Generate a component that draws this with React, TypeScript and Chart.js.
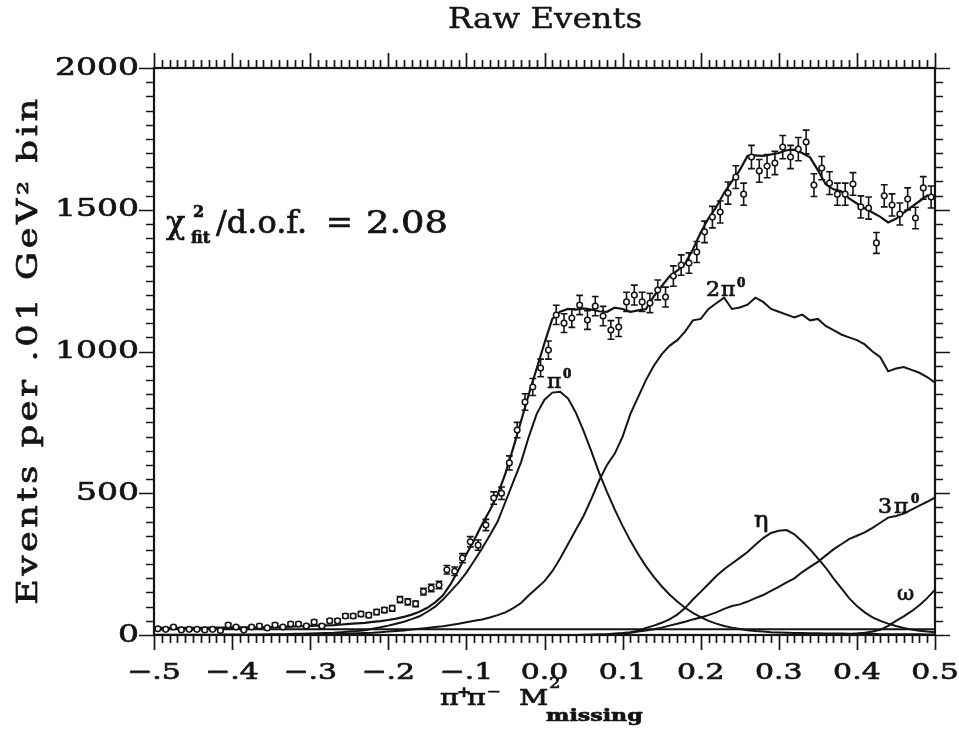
import React, { useEffect, useRef } from "react";
import { Chart, registerables } from "chart.js";

Chart.register(...registerables);

// ---- data points (bin centres, counts per .01 GeV^2 bin, errors) ----
const binCenters: number[] = Array.from({ length: 100 }, (_, k) => +(-0.495 + 0.01 * k).toFixed(3));
const counts: number[] = [
  22, 20, 28, 18, 20, 20, 18, 20, 16, 35,
  28, 18, 28, 32, 25, 35, 28, 39, 39, 32,
  46, 32, 50, 50, 67, 67, 74, 70, 81, 88,
  94, 125, 117, 110, 153, 166, 176, 230, 225, 271,
  329, 317, 388, 483, 500, 607, 723, 822, 875, 942,
  1005, 1129, 1100, 1118, 1164, 1111, 1160, 1125, 1076, 1086,
  1175, 1199, 1175, 1171, 1217, 1192, 1266, 1305, 1312, 1351,
  1422, 1474, 1492, 1559, 1615, 1555, 1686, 1637, 1654, 1665,
  1721, 1686, 1714, 1739, 1587, 1647, 1594, 1555, 1555, 1591,
  1510, 1506, 1383, 1549, 1517, 1485, 1538, 1471, 1577, 1545,
];
const countErrors: number[] = [
  5, 4, 5, 4, 4, 4, 4, 4, 4, 6,
  5, 4, 5, 6, 5, 6, 5, 6, 6, 6,
  7, 6, 7, 7, 8, 8, 9, 8, 9, 9,
  10, 11, 11, 10, 12, 13, 13, 15, 15, 16,
  18, 18, 20, 22, 22, 25, 27, 29, 30, 31,
  32, 34, 33, 33, 34, 33, 34, 34, 33, 33,
  34, 35, 34, 34, 35, 35, 36, 36, 36, 37,
  38, 38, 39, 39, 40, 39, 41, 40, 41, 41,
  41, 41, 41, 42, 40, 41, 40, 39, 39, 40,
  39, 39, 37, 39, 39, 39, 39, 38, 40, 39,
];

// ---- fit curves on an x grid of .01 from -.5 to .5 ----
const curveX: number[] = Array.from({ length: 101 }, (_, i) => +(-0.5 + 0.01 * i).toFixed(2));
const fitTotal: number[] = [
  25, 25, 25, 25, 25, 25, 25, 26, 26, 26,
  26, 27, 27, 27, 28, 28, 29, 29, 30, 31,
  32, 33, 34, 35, 37, 39, 41, 43, 46, 49,
  53, 58, 64, 72, 82, 96, 115, 140, 180, 230,
  285, 335, 390, 440, 495, 570, 660, 755, 850, 940,
  1030, 1115, 1140, 1150, 1148, 1152, 1148, 1142, 1140, 1155,
  1150, 1140, 1145, 1150, 1195, 1230, 1265, 1285, 1310, 1360,
  1420, 1470, 1510, 1560, 1600, 1640, 1690, 1692, 1690, 1695,
  1700, 1710, 1712, 1700, 1685, 1640, 1590, 1572, 1565, 1540,
  1522, 1505, 1490, 1475, 1455, 1468, 1490, 1510, 1530, 1550, 1540,
];
const pi0Curve: number[] = [
  1, 1, 1, 1, 1, 1, 1, 1, 1, 2,
  2, 2, 2, 2, 2, 3, 3, 3, 4, 4,
  5, 6, 7, 8, 10, 12, 14, 17, 22, 27,
  33, 40, 47, 56, 66, 82, 100, 125, 155, 185,
  220, 262, 305, 352, 400, 470, 540, 610, 700, 780,
  830, 855, 858, 835, 785, 720, 648, 572, 505, 442,
  385, 332, 285, 242, 205, 172, 143, 118, 96, 78,
  63, 50, 40, 32, 26, 21, 17, 14, 12, 10,
  9, 8, 7, 7, 6, 6, 5, 5, 5, 4,
  4, 4, 4, 3, 3, 3, 3, 3, 3, 2, 2,
];
const twoPi0Curve: number[] = [
  0, 0, 0, 0, 0, 0, 0, 0, 0, 0,
  0, 0, 0, 0, 1, 1, 1, 1, 1, 2,
  2, 2, 3, 3, 4, 5, 6, 7, 8, 10,
  12, 14, 16, 19, 22, 25, 28, 31, 35, 40,
  45, 50, 55, 62, 70, 80, 95, 113, 140, 165,
  190, 225, 270, 320, 370, 420, 480, 545, 600, 640,
  700, 780, 840, 900, 950, 990, 1020, 1040, 1070, 1110,
  1115, 1150, 1170, 1190, 1150, 1155, 1165, 1190, 1175, 1150,
  1140, 1130, 1120, 1130, 1110, 1115, 1090, 1075, 1060, 1050,
  1040, 1025, 1000, 980, 930, 940, 945, 935, 925, 910, 890,
];
const etaCurve: number[] = [
  0, 0, 0, 0, 0, 0, 0, 0, 0, 0,
  0, 0, 0, 0, 0, 0, 0, 0, 0, 0,
  0, 0, 0, 0, 0, 0, 0, 0, 0, 0,
  0, 0, 0, 0, 0, 0, 0, 0, 0, 0,
  0, 0, 0, 0, 0, 0, 0, 0, 0, 0,
  0, 0, 0, 0, 0, 0, 1, 2, 3, 5,
  7, 10, 15, 25, 33, 43, 55, 72, 95, 125,
  152, 180, 208, 232, 252, 272, 293, 318, 342, 360,
  368, 370, 355, 330, 302, 270, 238, 200, 165, 130,
  102, 80, 62, 50, 40, 32, 25, 19, 15, 12, 10,
];
const threePi0Curve: number[] = [
  0, 0, 0, 0, 0, 0, 0, 0, 0, 0,
  0, 0, 0, 0, 0, 0, 0, 0, 0, 0,
  0, 0, 0, 0, 0, 0, 0, 0, 0, 0,
  0, 0, 0, 0, 0, 0, 0, 0, 0, 0,
  0, 0, 0, 0, 0, 0, 0, 0, 0, 0,
  0, 0, 0, 0, 0, 1, 1, 2, 2, 3,
  5, 8, 12, 16, 20, 26, 33, 40, 47, 55,
  62, 70, 80, 92, 102, 108, 118, 130, 141, 156,
  170, 186, 200, 222, 240, 258, 280, 302, 320, 338,
  350, 362, 378, 396, 414, 420, 428, 442, 456, 470, 485,
];
const omegaCurve: number[] = [
  0, 0, 0, 0, 0, 0, 0, 0, 0, 0,
  0, 0, 0, 0, 0, 0, 0, 0, 0, 0,
  0, 0, 0, 0, 0, 0, 0, 0, 0, 0,
  0, 0, 0, 0, 0, 0, 0, 0, 0, 0,
  0, 0, 0, 0, 0, 0, 0, 0, 0, 0,
  0, 0, 0, 0, 0, 0, 0, 0, 0, 0,
  0, 0, 0, 0, 0, 0, 0, 0, 0, 0,
  0, 0, 0, 0, 0, 0, 0, 0, 0, 0,
  0, 0, 0, 0, 0, 0, 1, 1, 2, 3,
  5, 8, 12, 18, 32, 50, 66, 84, 105, 130, 160,
];
const flatX: number[] = [-0.5, 0.5];
const flatLevel: number[] = [20, 20];

// ---- axes ----
const xTickValues: number[] = [-0.5, -0.4, -0.3, -0.2, -0.1, 0, 0.1, 0.2, 0.3, 0.4, 0.5];
const xTickLabels: string[] = ["\u2212.5", "\u2212.4", "\u2212.3", "\u2212.2", "\u2212.1", "0.0", "0.1", "0.2", "0.3", "0.4", "0.5"];
const yTickValues: number[] = [0, 500, 1000, 1500, 2000];
const yTickLabels: string[] = ["0", "500", "1000", "1500", "2000"];

const FONT = '"DejaVu Serif", serif';
const INK = "#141414";

type TOpts = { sx?: number; align?: CanvasTextAlign; bold?: boolean; ls?: number; rot?: number; baseline?: CanvasTextBaseline; heavy?: number };
function drawText(ctx: CanvasRenderingContext2D, text: string, x: number, y: number, size: number, o: TOpts = {}) {
  ctx.save();
  ctx.translate(x, y);
  if (o.rot) ctx.rotate(o.rot);
  ctx.scale(o.sx ?? 1, 1);
  ctx.font = `${o.bold ? "bold " : ""}${size}px ${FONT}`;
  ctx.textAlign = o.align ?? "left";
  ctx.textBaseline = o.baseline ?? "alphabetic";
  (ctx as any).letterSpacing = (o.ls ?? 0) + "px";
  ctx.fillStyle = INK;
  ctx.fillText(text, 0, 0);
  const hv = o.heavy ?? 0.7;
  if (hv > 0) {
    ctx.strokeStyle = INK;
    ctx.lineWidth = hv;
    ctx.lineJoin = "round";
    ctx.strokeText(text, 0, 0);
  }
  ctx.restore();
}

function toXY(xs: number[], ys: number[]) {
  return xs.map((x, i) => ({ x, y: ys[i] }));
}

const errorBarPlugin = {
  id: "errorBars",
  beforeDatasetsDraw(chart: any) {
    const { ctx, scales } = chart;
    const xs = scales.x, ys = scales.y;
    ctx.save();
    ctx.strokeStyle = INK;
    ctx.lineWidth = 1.6;
    for (let i = 0; i < counts.length; i++) {
      const px = xs.getPixelForValue(binCenters[i]);
      const y1 = ys.getPixelForValue(counts[i] - countErrors[i]);
      const y2 = ys.getPixelForValue(counts[i] + countErrors[i]);
      ctx.beginPath();
      ctx.moveTo(px, y1); ctx.lineTo(px, y2);
      ctx.moveTo(px - 3.4, y1); ctx.lineTo(px + 3.4, y1);
      ctx.moveTo(px - 3.4, y2); ctx.lineTo(px + 3.4, y2);
      ctx.stroke();
    }
    ctx.restore();
  },
};

const framePlugin = {
  id: "frameAndText",
  afterDraw(chart: any) {
    const { ctx, chartArea, scales } = chart;
    const { left, right, top, bottom } = chartArea;
    const xs = scales.x, ys = scales.y;
    ctx.save();
    ctx.strokeStyle = INK;
    ctx.lineWidth = 2.2;
    ctx.strokeRect(left, top, right - left, bottom - top);
    ctx.lineWidth = 1.7;
    ctx.beginPath();
    for (let i = 0; i <= 100; i++) {
      const px = Math.round(xs.getPixelForValue(-0.5 + i * 0.01)) + 0.5;
      const len = i % 10 === 0 ? 15 : 8;
      ctx.moveTo(px, bottom); ctx.lineTo(px, bottom + len);
      ctx.moveTo(px, top); ctx.lineTo(px, top - len);
    }
    for (let i = 0; i <= 40; i++) {
      const py = Math.round(ys.getPixelForValue(i * 50)) + 0.5;
      const len = i % 10 === 0 ? 15 : 8;
      ctx.moveTo(left, py); ctx.lineTo(left - len, py);
      ctx.moveTo(right, py); ctx.lineTo(right + len, py);
    }
    ctx.stroke();
    ctx.restore();

    // tick labels
    xTickValues.forEach((v, i) => {
      drawText(ctx, xTickLabels[i], xs.getPixelForValue(v), 679, 23, { align: "center", sx: 1.3 });
    });
    yTickValues.forEach((v, i) => {
      drawText(ctx, yTickLabels[i], left - 15, ys.getPixelForValue(v), 25, { align: "right", sx: 1.32, baseline: "middle" });
    });

    // title
    drawText(ctx, "Raw Events", 545, 28, 27, { align: "center", sx: 1.2, heavy: 0.4 });

    // y axis title
    drawText(ctx, "Events per .01 GeV\u00B2 bin", 37, 350, 27, { align: "center", sx: 1.3, ls: 2.8, rot: -Math.PI / 2 });

    // x axis title
    drawText(ctx, "\u03C0", 440, 705, 22, { sx: 1.3 });
    drawText(ctx, "+", 457, 697, 14, { sx: 1.2, bold: true });
    drawText(ctx, "\u03C0", 467, 705, 22, { sx: 1.3 });
    drawText(ctx, "\u2212", 487, 696, 14, { sx: 1.2 });
    drawText(ctx, "M", 519, 705, 22, { sx: 1.3 });
    drawText(ctx, "2", 549, 688, 15, { sx: 1.2 });
    drawText(ctx, "missing", 546, 721, 17, { sx: 1.3, bold: true });

    // chi2 annotation
    drawText(ctx, "\u03C7", 166, 233, 32, {});
    drawText(ctx, "2", 193, 217, 16, { bold: true });
    drawText(ctx, "fit", 191, 243, 16, { bold: true });
    drawText(ctx, "/d.o.f.", 216, 233, 32, {});
    drawText(ctx, "=", 326, 233, 32, {});
    drawText(ctx, "2.08", 366, 233, 32, { sx: 1.15 });

    // component labels
    drawText(ctx, "\u03C0", 547, 388, 20, { sx: 1.1 });
    drawText(ctx, "0", 563, 378, 12, { bold: true });
    drawText(ctx, "2", 706, 296, 20, { sx: 1.1 });
    drawText(ctx, "\u03C0", 721, 296, 20, { sx: 1.1 });
    drawText(ctx, "0", 737, 287, 12, { bold: true });
    drawText(ctx, "\u03B7", 754, 527, 22, { sx: 1.1 });
    drawText(ctx, "3", 878, 513, 20, { sx: 1.1 });
    drawText(ctx, "\u03C0", 894, 513, 20, { sx: 1.1 });
    drawText(ctx, "0", 911, 503, 12, { bold: true });
    drawText(ctx, "\u03C9", 897, 600, 20, { sx: 1.05 });
  },
};

function curve(label: string, ys: number[], width = 2) {
  return {
    type: "line" as const,
    label,
    data: toXY(curveX, ys),
    borderColor: INK,
    borderWidth: width,
    pointRadius: 0,
    fill: false,
    tension: 0,
  };
}

export default function App() {
  const ref = useRef<HTMLCanvasElement | null>(null);
  useEffect(() => {
    if (!ref.current) return;
    const chart = new Chart(ref.current, {
      type: "line",
      data: {
        datasets: [
          {
            type: "line",
            label: "Data",
            data: toXY(binCenters, counts),
            showLine: false,
            pointRadius: 2.8,
            pointHoverRadius: 2.8,
            pointBackgroundColor: "#ffffff",
            pointBorderColor: INK,
            pointBorderWidth: 1.5,
            borderColor: INK,
          } as any,
          curve("Fit", fitTotal, 2.2),
          curve("\u03C0\u2070", pi0Curve),
          curve("2\u03C0\u2070", twoPi0Curve),
          curve("\u03B7", etaCurve),
          curve("3\u03C0\u2070", threePi0Curve),
          curve("\u03C9", omegaCurve),
          {
            type: "line",
            label: "flat",
            data: toXY(flatX, flatLevel),
            borderColor: INK,
            borderWidth: 2,
            pointRadius: 0,
          } as any,
        ],
      },
      options: {
        responsive: false,
        maintainAspectRatio: false,
        animation: false,
        devicePixelRatio: 1,
        layout: { padding: { left: 154, right: 24, top: 68, bottom: 96 } },
        scales: {
          x: { type: "linear", min: -0.5, max: 0.5, display: false },
          y: { type: "linear", min: 0, max: 2000, display: false },
        },
        plugins: {
          legend: { display: false },
          tooltip: { enabled: false },
          title: { display: false },
        },
      },
      plugins: [errorBarPlugin, framePlugin],
    });
    return () => chart.destroy();
  }, []);
  return (
    <div style={{ position: "fixed", left: 0, top: 0, width: 959, height: 731, background: "#fff" }}>
      <canvas ref={ref} width={959} height={731} style={{ display: "block", width: 959, height: 731 }} />
    </div>
  );
}
